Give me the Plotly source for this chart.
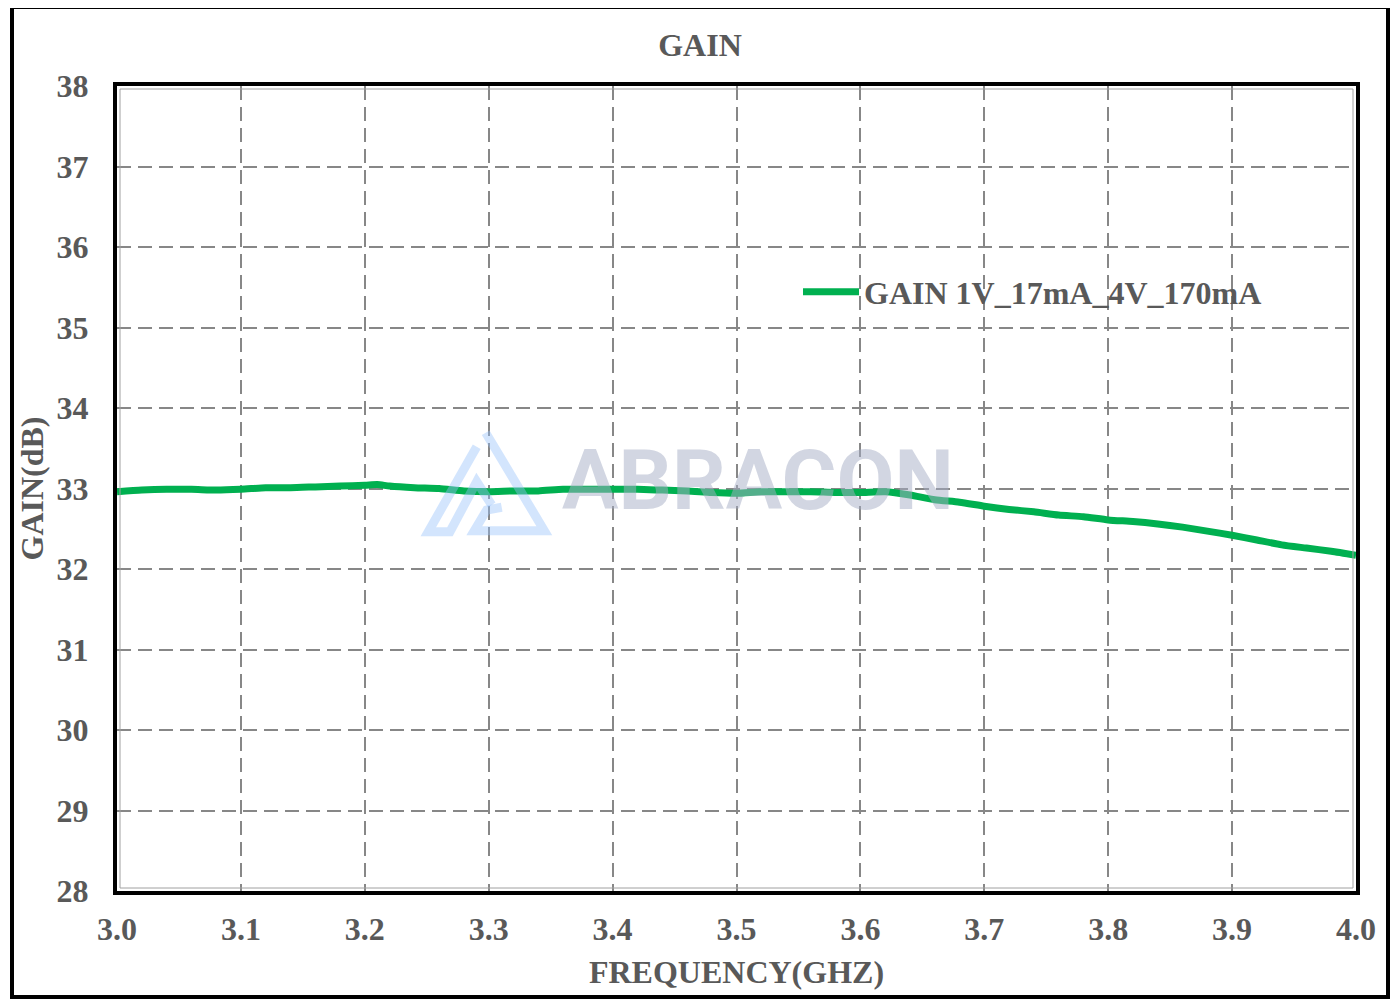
import plotly.graph_objects as go

# ---- data ----
freq_ghz = [3.00, 3.02, 3.04, 3.06, 3.08, 3.10, 3.12, 3.14, 3.16, 3.18,
            3.20, 3.21, 3.22, 3.24, 3.26, 3.28, 3.30, 3.32, 3.34, 3.36,
            3.38, 3.40, 3.42, 3.44, 3.46, 3.48, 3.50, 3.52, 3.54, 3.56,
            3.58, 3.60, 3.62, 3.64, 3.66, 3.68, 3.70, 3.72, 3.74, 3.76,
            3.78, 3.80, 3.82, 3.84, 3.86, 3.88, 3.90, 3.92, 3.94, 3.96,
            3.98, 4.00]
gain_db = [32.96, 32.98, 32.99, 32.99, 32.98, 32.99, 33.01, 33.01, 33.02, 33.03,
           33.04, 33.05, 33.03, 33.01, 33.00, 32.97, 32.96, 32.97, 32.97, 32.99,
           32.99, 32.99, 32.99, 32.98, 32.97, 32.95, 32.94, 32.96, 32.96, 32.96,
           32.95, 32.95, 32.96, 32.92, 32.86, 32.83, 32.78, 32.74, 32.71, 32.67,
           32.65, 32.61, 32.59, 32.56, 32.52, 32.47, 32.42, 32.36, 32.30, 32.26,
           32.22, 32.17]
series_name = "GAIN 1V_17mA_4V_170mA"
x_ticks = [3.0, 3.1, 3.2, 3.3, 3.4, 3.5, 3.6, 3.7, 3.8, 3.9, 4.0]
y_ticks = [28, 29, 30, 31, 32, 33, 34, 35, 36, 37, 38]

# page has an 8px body margin; work in reference pixel coords shifted by OFF
OFF = 8
W, H = 1382, 991
ML, MT = 117 - OFF, 86 - OFF
MR = W - (1356 - OFF)
MB = H - (891 - OFF)
PW, PH = W - ML - MR, H - MT - MB


def px(x):
    return (x - OFF - ML) / PW


def py(y):
    return (H - MB - (y - OFF)) / PH


FONT = "Liberation Serif"
GRAY = "#595959"
FS = 32

fig = go.Figure()
fig.add_trace(go.Scatter(
    x=freq_ghz, y=gain_db, mode="lines", name=f"<b>{series_name}</b>",
    line=dict(color="#00b050", width=7, shape="spline", smoothing=0.6),
))

axis_common = dict(
    showline=True, linecolor="black", linewidth=4, mirror=True,
    showgrid=True, gridcolor="#878787", gridwidth=1.8, griddash="14px,7px",
    zeroline=False, ticks="",
    tickfont=dict(family=FONT, size=FS, color=GRAY),
)

fig.update_layout(
    width=W, height=H,
    margin=dict(l=ML, r=MR, t=MT, b=MB),
    paper_bgcolor="white", plot_bgcolor="white",
    title=dict(text="<b>GAIN</b>", xref="container", x=(700 - OFF) / W,
               xanchor="center", yref="container",
               y=1 - (45 - OFF) / H, yanchor="middle",
               font=dict(family=FONT, size=FS, color=GRAY)),
    xaxis=dict(range=[3.0, 4.0], tickvals=x_ticks,
               ticktext=[f"<b>{v:.1f}</b>" for v in x_ticks],
               ticklabelstandoff=7,
               title=dict(text="<b>FREQUENCY(GHZ)</b>", standoff=15,
                          font=dict(family=FONT, size=FS, color=GRAY)),
               **axis_common),
    yaxis=dict(range=[28, 38], tickvals=y_ticks,
               ticktext=[f"<b>{v}</b>" for v in y_ticks],
               ticklabelstandoff=18,
               title=dict(text="<b>GAIN(dB)</b>", standoff=4,
                          font=dict(family=FONT, size=FS, color=GRAY)),
               **axis_common),
    showlegend=True,
    legend=dict(x=px(798), y=py(292), xanchor="left", yanchor="middle",
                bgcolor="rgba(0,0,0,0)", itemwidth=56,
                font=dict(family=FONT, size=FS, color=GRAY)),
)

# outer frame
fig.add_shape(type="rect", xref="paper", yref="paper",
              x0=px(12), x1=px(1388), y0=py(997), y1=py(7),
              line=dict(color="black", width=4), fillcolor="rgba(0,0,0,0)")
# thin gray inner line of the plot border
fig.add_shape(type="rect", xref="paper", yref="paper",
              x0=px(120), x1=px(1353), y0=py(888), y1=py(89),
              line=dict(color="#a0a0a0", width=1), fillcolor="rgba(0,0,0,0)")

# watermark logo
logo_col = "rgba(150,192,250,0.42)"
paths = [
    [(485.7, 432.7), (544.3, 530.7), (474.3, 530.7), (486.7, 510), (501.7, 507.3)],
    [(476.7, 446.7), (428.3, 531.7), (450, 531.7), (476.7, 481.7), (491.7, 505)],
]
for pts in paths:
    path = "M " + " L ".join(f"{px(a)} {py(b)}" for a, b in pts)
    fig.add_shape(type="path", xref="paper", yref="paper", path=path,
                  line=dict(color=logo_col, width=9),
                  fillcolor="rgba(0,0,0,0)")

fig.add_annotation(text="<b>ABRACON</b>", xref="paper", yref="paper",
                   x=px(758), y=py(480), xanchor="center", yanchor="middle",
                   showarrow=False,
                   font=dict(family="Roboto", size=84,
                             color="rgba(165,173,198,0.5)"))

fig.write_html("out.html")
